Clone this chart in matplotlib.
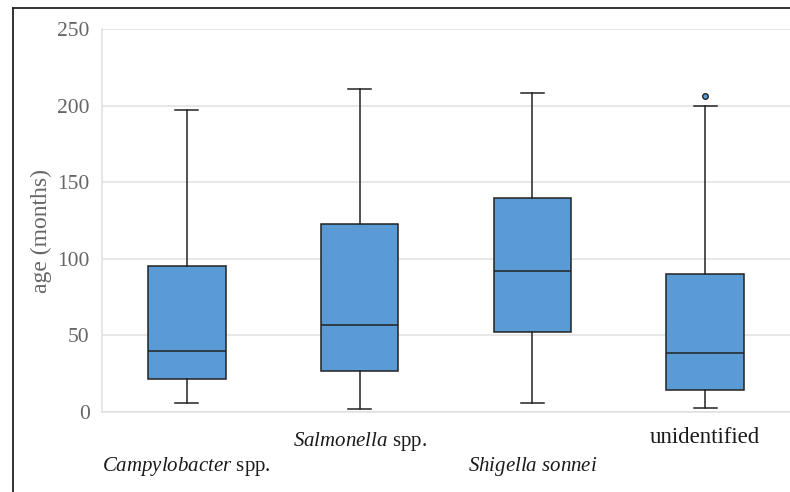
#!/usr/bin/env python3
"""
Box plot of patient age (months) per pathogen group
"""

import matplotlib
matplotlib.use('Agg')
import matplotlib.pyplot as plt
from matplotlib.lines import Line2D

plt.rcParams['font.family'] = ['Liberation Serif', 'DejaVu Serif']
plt.rcParams['mathtext.fontset'] = 'custom'
plt.rcParams['mathtext.rm'] = 'Liberation Serif'
plt.rcParams['mathtext.it'] = 'Liberation Serif:italic'

# values
labels = [r'$\it{Campylobacter}$ spp.', r'$\it{Salmonella}$ spp.',
          r'$\it{Shigella\ sonnei}$', 'unidentified']
whislo = [6, 2, 6, 2.5]
q1 = [21.5, 27, 52, 14.5]
med = [40, 57, 92, 38.5]
q3 = [95, 123, 140, 90]
whishi = [197, 211, 208, 200]
outliers = [[], [], [], [206]]

# label height below the axis (axes fraction), staggered as in the original
label_y = [-0.141, -0.076, -0.141, -0.066]
label_size = [15, 15, 15, 16.5]

box_color = '#5b9bd5'
line_color = '#222222'
grid_color = '#e0e0e0'
tick_color = '#666666'

stats = []
for i in range(len(labels)):
    stats.append({'whislo': whislo[i], 'q1': q1[i], 'med': med[i],
                  'q3': q3[i], 'whishi': whishi[i], 'fliers': outliers[i]})

W, H = 790, 492
fig = plt.figure(figsize=(W / 100, H / 100), dpi=100)
ax = fig.add_axes([102 / W, (H - 412) / H, 688 / W, 383 / H])

pos = list(range(len(labels)))
ax.bxp(stats, positions=pos, widths=0.45, patch_artist=True,
       capwidths=0.135,
       boxprops=dict(facecolor=box_color, edgecolor=line_color, linewidth=1.1),
       medianprops=dict(color=line_color, linewidth=1.1),
       whiskerprops=dict(color=line_color, linewidth=1.1),
       capprops=dict(color=line_color, linewidth=1.1),
       flierprops=dict(marker='o', markersize=4, markerfacecolor=box_color,
                       markeredgecolor=line_color, markeredgewidth=1.0),
       zorder=3)

ax.set_xlim(-0.49, 3.49)
ax.set_ylim(0, 250)
ax.set_yticks([0, 50, 100, 150, 200, 250])
ax.yaxis.grid(True, color=grid_color, linewidth=1.1, zorder=0)
ax.set_axisbelow(True)

for side in ['top', 'right']:
    ax.spines[side].set_visible(False)
ax.spines['left'].set_color(grid_color)
ax.spines['bottom'].set_color(grid_color)
ax.spines['left'].set_linewidth(1.1)
ax.spines['bottom'].set_linewidth(1.1)

ax.tick_params(axis='y', length=0, pad=9, labelsize=15.5, labelcolor=tick_color)
ax.set_xticks([])

for x, lab, y, s in zip(pos, labels, label_y, label_size):
    ax.text(x, y, lab, transform=ax.get_xaxis_transform(), ha='center',
            va='center', fontsize=s, color='#1a1a1a')

ax.set_ylabel('age (months)', fontsize=17, color=tick_color)
ax.yaxis.set_label_coords(-0.072, 0.473)

# outer frame lines (top and left)
fig.add_artist(Line2D([13 / W, 13 / W], [0, 1 - 8 / H], color='#222222',
                      linewidth=1.3, transform=fig.transFigure))
fig.add_artist(Line2D([13 / W, 1], [1 - 8 / H, 1 - 8 / H], color='#222222',
                      linewidth=1.3, transform=fig.transFigure))

fig.savefig('out.png', dpi=100)
